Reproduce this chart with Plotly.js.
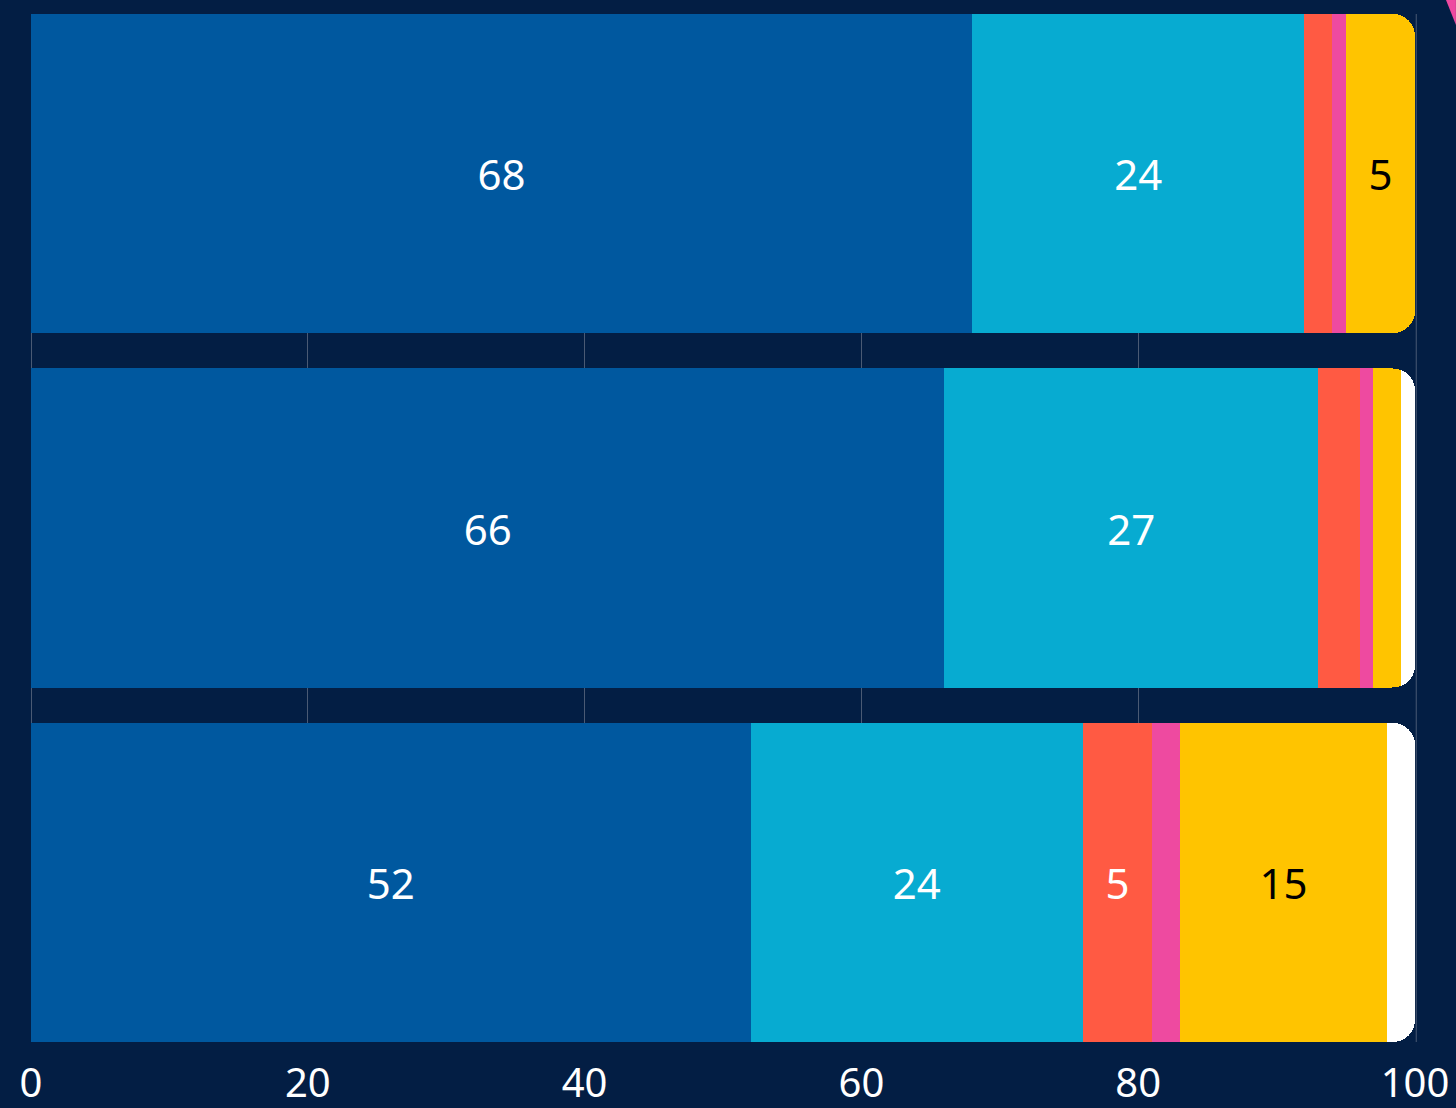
<!DOCTYPE html>
<html>
<head>
<meta charset="utf-8">
<script src="https://cdn.plot.ly/plotly-3.0.1.min.js"></script>
<style>
  html, body { margin: 0; padding: 0; background: #031e44; }
  #chart { width: 1456px; height: 1108px; }
</style>
</head>
<body>
<div id="chart"></div>
<script>
const categories = ["Group 1", "Group 2", "Group 3"];
const series1 = [68, 66, 52];
const series2 = [24, 27, 24];
const series3 = [2, 3, 5];
const series4 = [1, 1, 2];
const series5 = [5, 2, 15];
const series6 = [0, 1, 2];
const seriesNames = ["Series 1", "Series 2", "Series 3", "Series 4", "Series 5", "Series 6"];
const tickVals = [0, 20, 40, 60, 80, 100];
const tickLabels = ["0", "20", "40", "60", "80", "100"];

const colors = ["#00589f", "#07abd1", "#ff5a43", "#ee4aa0", "#ffc400", "#ffffff"];
const textColors = ["#ffffff", "#ffffff", "#ffffff", "#ffffff", "#000000", "#000000"];
const allSeries = [series1, series2, series3, series4, series5, series6];

const FONT = "'Source Sans Pro', 'Noto Sans', 'Open Sans', sans-serif";
const GRID = "#4a5a74";

const traces = allSeries.map((vals, i) => ({
  type: "bar",
  orientation: "h",
  name: seriesNames[i],
  y: categories,
  x: vals,
  marker: { color: colors[i], line: { width: 0 } },
  text: vals.map(v => (v >= 5 ? String(v) : "")),
  texttemplate: "%{text}",
  textposition: "inside",
  insidetextanchor: "middle",
  textangle: 0,
  constraintext: "none",
  textfont: { family: FONT, size: 42, color: textColors[i] },
  hoverinfo: "skip"
}));

const layout = {
  width: 1456,
  height: 1108,
  paper_bgcolor: "#031e44",
  plot_bgcolor: "#031e44",
  barmode: "stack",
  bargap: 0.1,
  barcornerradius: 22,
  showlegend: false,
  margin: { l: 31, r: 41, t: 14, b: 66, pad: 0 },
  xaxis: {
    range: [0, 100],
    tickvals: tickVals,
    ticktext: tickLabels,
    showgrid: true,
    gridcolor: GRID,
    gridwidth: 1,
    zeroline: true,
    zerolinecolor: GRID,
    zerolinewidth: 1,
    showline: false,
    ticks: "",
    ticklabelstandoff: 14,
    tickfont: { family: FONT, size: 40, color: "#ffffff" },
    fixedrange: true
  },
  yaxis: {
    type: "category",
    range: [2.45, -0.45],
    showticklabels: false,
    showgrid: false,
    zeroline: false,
    ticks: "",
    fixedrange: true
  },
  shapes: [
    {
      type: "line", layer: "above",
      xref: "paper", yref: "paper",
      x0: 1.0009, x1: 1.0009, y0: 0, y1: 1,
      line: { color: GRID, width: 1 }
    },
    {
      type: "path", layer: "above",
      xref: "paper", yref: "paper",
      path: "M 1.0224 1.0136 L 1.0296 1.0136 L 1.0296 0.9893 Z",
      fillcolor: "#ee4aa0",
      line: { width: 0 }
    }
  ]
};

Plotly.newPlot("chart", traces, layout, { displayModeBar: false, staticPlot: true });
</script>
</body>
</html>
